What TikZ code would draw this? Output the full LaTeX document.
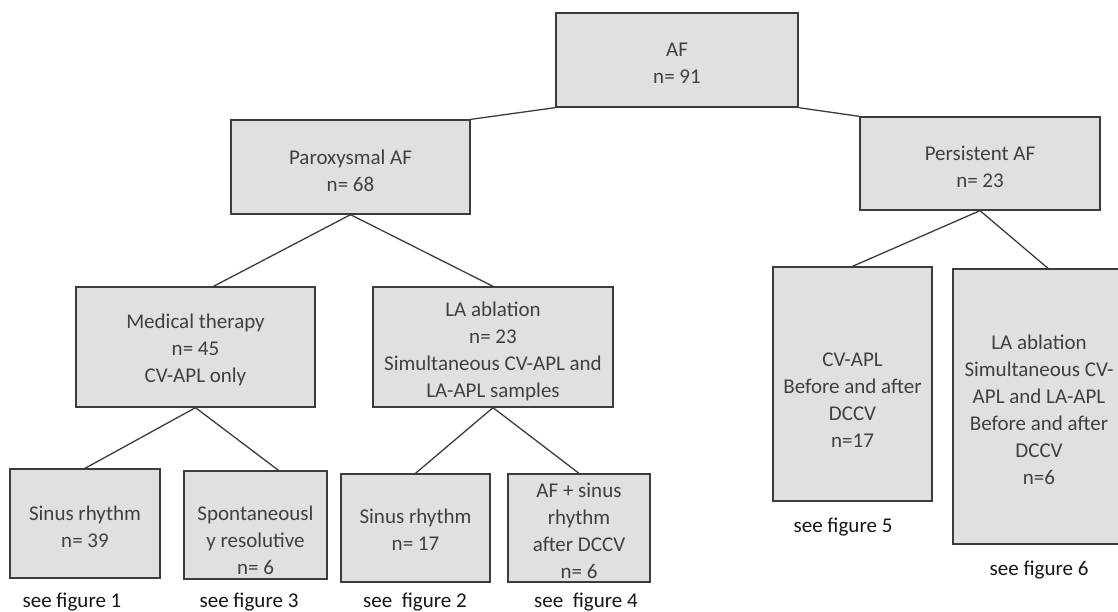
\documentclass[tikz,border=0pt]{standalone}
\usepackage{fontspec}
\setmainfont{Carlito}
\definecolor{boxfill}{HTML}{E0E0E0}
\definecolor{boxline}{HTML}{3C3C3C}
\definecolor{boxtext}{HTML}{404040}
\definecolor{labtext}{HTML}{151515}
\begin{document}
\begin{tikzpicture}[x=1pt,y=-1pt,
  box/.style={draw=boxline, fill=boxfill, line width=1.3pt, inner sep=0pt, rectangle},
  txt/.style={text=boxtext, align=center, inner sep=0pt, font=\fontsize{21}{27}\selectfont},
  lab/.style={text=labtext, inner sep=0pt, font=\fontsize{21}{27}\selectfont},
  conn/.style={draw=boxline, line width=1.3pt}]
\useasboundingbox (0,0) rectangle (1118,612);
% boxes
\node[box, minimum width=242pt, minimum height=94pt] (af) at (677,60) {};
\node[txt] (aft) at (677,63.5) {AF\\n= 91};
\node[box, minimum width=239pt, minimum height=94pt] (parox) at (350.5,167) {};
\node[txt] (paroxt) at (350.5,170.5) {Paroxysmal AF\\n= 68};
\node[box, minimum width=240pt, minimum height=93pt] (pers) at (980,163.5) {};
\node[txt] (perst) at (980,166.5) {Persistent AF\\n= 23};
\node[box, minimum width=239pt, minimum height=120pt] (med) at (195.5,347) {};
\node[txt] (medt) at (195.5,350) {Medical therapy\\n= 45\\CV-APL only};
\node[box, minimum width=240pt, minimum height=120pt] (laab) at (493,347) {};
\node[txt] (laabt) at (493,351) {LA ablation\\n= 23\\Simultaneous CV-APL and\\LA-APL samples};
\node[box, minimum width=150pt, minimum height=109pt] (sin39) at (85,523.5) {};
\node[txt] (sin39t) at (85,526.5) {Sinus rhythm\\n= 39};
\node[box, minimum width=143pt, minimum height=108pt] (spont) at (255.5,525) {};
\node[txt] (spontt) at (255.5,540.5) {Spontaneousl\\y resolutive\\n= 6};
\node[box, minimum width=149pt, minimum height=108pt] (sin17) at (415.5,528) {};
\node[txt] (sin17t) at (415.5,530) {Sinus rhythm\\n= 17};
\node[box, minimum width=142pt, minimum height=108pt] (afsin) at (579,528) {};
\node[txt] (afsint) at (579,531) {AF + sinus\\rhythm\\after DCCV\\n= 6};
\node[box, minimum width=159pt, minimum height=234pt] (cvapl) at (852.5,384) {};
\node[txt] (cvaplt) at (852.5,400) {CV-APL\\Before and after\\DCCV\\n=17};
\node[box, minimum width=172pt, minimum height=275pt] (la6) at (1039,406.5) {};
\node[txt] (la6t) at (1039,410) {LA ablation\\Simultaneous CV-\\APL and LA-APL\\Before and after\\DCCV\\n=6};
% labels
\node[lab] (f1) at (72,602) {see figure 1};
\node[lab] (f3) at (249,602) {see figure 3};
\node[lab] (f2) at (415,602) {see\ \ figure 2};
\node[lab] (f4) at (586,602) {see\ \ figure 4};
\node[lab] (f5) at (843,527) {see figure 5};
\node[lab] (f6) at (1039,570) {see figure 6};
% connectors
\draw[conn] (af.south west) -- (parox.north east);
\draw[conn] (af.south east) -- (pers.north west);
\draw[conn] (parox.south) -- ([xshift=18pt]med.north);
\draw[conn] (parox.south) -- (laab.north);
\draw[conn] (pers.south) -- (cvapl.north);
\draw[conn] (pers.south) -- ([xshift=9pt]la6.north);
\draw[conn] (med.south) -- (sin39.north);
\draw[conn] (med.south) -- ([xshift=23pt]spont.north);
\draw[conn] (laab.south) -- (sin17.north);
\draw[conn] (laab.south) -- (afsin.north);
\end{tikzpicture}
\end{document}
